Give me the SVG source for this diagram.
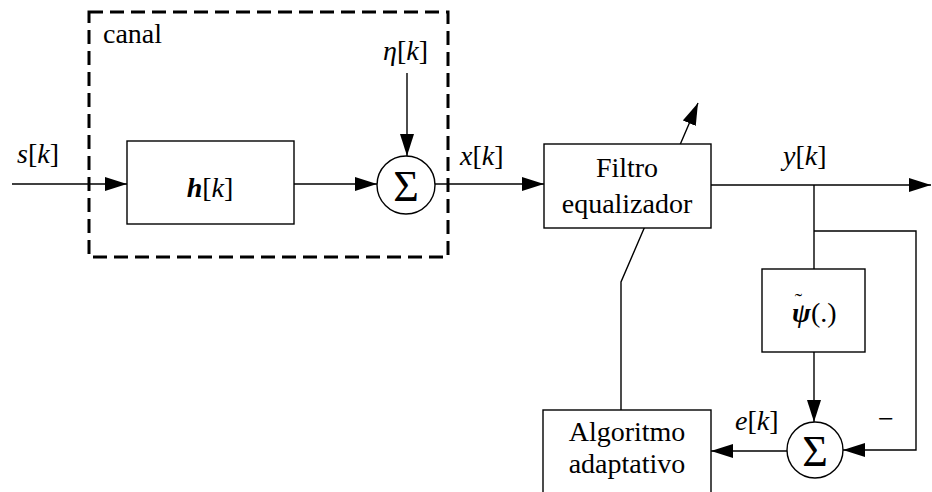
<svg xmlns="http://www.w3.org/2000/svg" width="932" height="492" viewBox="0 0 932 492">
<defs>
<marker id="arr" markerUnits="userSpaceOnUse" markerWidth="22" markerHeight="14" refX="22" refY="7" orient="auto">
<path d="M0,0 L22,7 L0,14 z" fill="#000"/>
</marker>
<style>
.ln{fill:none;stroke:#000;stroke-width:1.4}
.box{fill:#fff;stroke:#000;stroke-width:1.4}
.t{font-family:'Liberation Serif','Times New Roman',serif;font-size:28px;fill:#000}
.i{font-style:italic}
.bi{font-style:italic;font-weight:bold}
.sig{font-family:'Liberation Serif','Times New Roman',serif;font-size:44px;fill:#000;text-anchor:middle}
</style>
</defs>
<rect width="932" height="492" fill="#fff"/>
<g id="canal">
<rect x="89" y="12" width="359" height="245" fill="none" stroke="#000" stroke-width="3" stroke-dasharray="14,7"/>
<text class="t" x="103" y="43">canal</text>
</g>
<g id="connectors">
<path class="ln" d="M12,184 H127" marker-end="url(#arr)"/>
<path class="ln" d="M294,184 H377" marker-end="url(#arr)"/>
<path class="ln" d="M407,73 V156" marker-end="url(#arr)"/>
<path class="ln" d="M435,184 H544" marker-end="url(#arr)"/>
<path class="ln" d="M711,185 H931" marker-end="url(#arr)"/>
<path class="ln" d="M814,185 V269"/>
<path class="ln" d="M814,231 H916 V450 H843" marker-end="url(#arr)"/>
<path class="ln" d="M814,352 V422" marker-end="url(#arr)"/>
<path class="ln" d="M787,451 H711" marker-end="url(#arr)"/>
<path class="ln" d="M621,410 V282 L698,103" marker-end="url(#arr)"/>
</g>
<g id="h">
<rect class="box" x="127" y="141" width="167" height="83"/>
<text class="t" x="210" y="197" text-anchor="middle"><tspan class="bi">h</tspan>[<tspan class="i">k</tspan>]</text>
</g>
<g id="sum1">
<circle class="box" cx="406" cy="185" r="29"/>
<text class="sig" x="406" y="201">Σ</text>
</g>
<g id="filtro">
<rect class="box" x="544" y="144" width="167" height="84"/>
<text class="t" x="627" y="177" text-anchor="middle">Filtro</text>
<text class="t" x="627" y="213" text-anchor="middle">equalizador</text>
</g>
<g id="psi">
<rect class="box" x="762" y="269" width="103" height="83"/>
<text class="t" x="792" y="322"><tspan class="bi">ψ</tspan><tspan dx="-16" dy="-14" font-size="22">˜</tspan><tspan dx="9" dy="14">(.)</tspan></text>
</g>
<g id="sum2">
<circle class="box" cx="815" cy="450" r="28"/>
<text class="sig" x="815" y="466">Σ</text>
</g>
<g id="algoritmo">
<rect class="box" x="543" y="410" width="168" height="100"/>
<text class="t" x="627" y="441" text-anchor="middle">Algoritmo</text>
<text class="t" x="627" y="473" text-anchor="middle">adaptativo</text>
</g>
<g id="labels">
<text class="t" x="17" y="163"><tspan class="i">s</tspan>[<tspan class="i">k</tspan>]</text>
<text class="t" x="383" y="60"><tspan class="i">η</tspan>[<tspan class="i">k</tspan>]</text>
<text class="t" x="460" y="165"><tspan class="i">x</tspan>[<tspan class="i">k</tspan>]</text>
<text class="t" x="783" y="165"><tspan class="i">y</tspan>[<tspan class="i">k</tspan>]</text>
<text class="t" x="735" y="430"><tspan class="i">e</tspan>[<tspan class="i">k</tspan>]</text>
<text class="t" x="878" y="428">−</text>
</g>
</svg>
